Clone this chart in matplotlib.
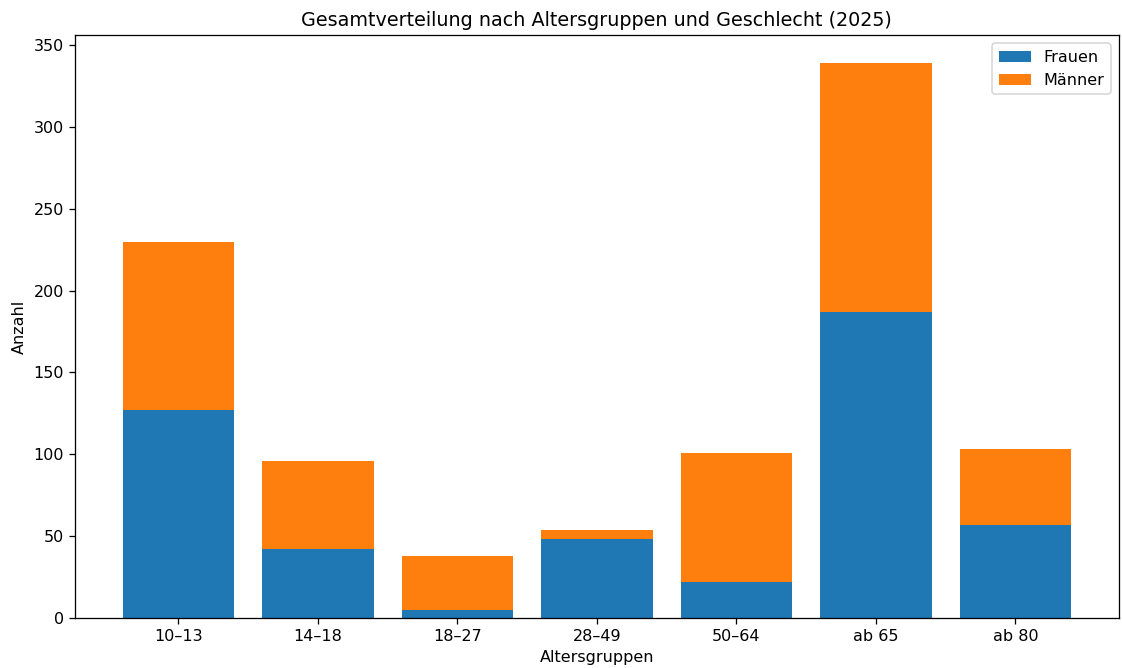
import matplotlib.pyplot as plt

# Data
gruppen = ['10–13', '14–18', '18–27', '28–49', '50–64', 'ab 65', 'ab 80']
frauen = [127, 42, 5, 48, 22, 187, 57]
maenner = [103, 54, 33, 6, 79, 152, 46]

fig, ax = plt.subplots(figsize=(1122 / 115, 668 / 115), dpi=115)

ax.bar(gruppen, frauen, label='Frauen', color='#1f77b4')
ax.bar(gruppen, maenner, bottom=frauen, label='Männer', color='#ff7f0e')

ax.set_title('Gesamtverteilung nach Altersgruppen und Geschlecht (2025)')
ax.set_xlabel('Altersgruppen')
ax.set_ylabel('Anzahl')
ax.legend(loc='upper right')

plt.subplots_adjust(left=0.067, right=0.997, top=0.947, bottom=0.075)
plt.savefig('out.png')
